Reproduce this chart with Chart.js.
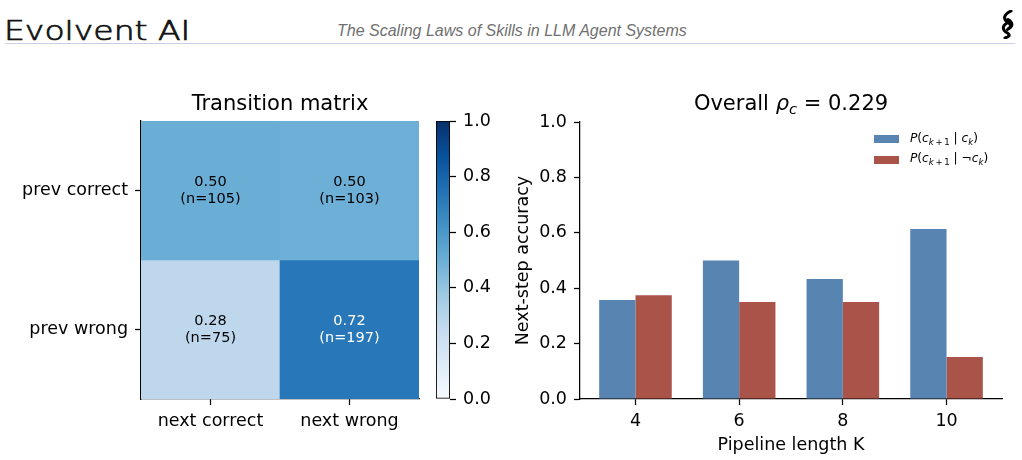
<!DOCTYPE html>
<html><head><meta charset="utf-8">
<script src="https://cdn.jsdelivr.net/npm/chart.js@4.4.1/dist/chart.umd.min.js"></script>
<style>
html,body{margin:0;padding:0;background:#fff;}
body{width:1022px;height:460px;position:relative;overflow:hidden;font-family:'DejaVu Sans',sans-serif;}
#brand{position:absolute;left:4px;top:18px;font-family:'DejaVu Sans';font-weight:200;font-size:26px;color:#111;-webkit-text-stroke:0.7px #111;transform-origin:0 0;transform:scaleX(1.27);white-space:nowrap;line-height:1;}
#subtitle{position:absolute;left:337px;top:23px;font-family:'Liberation Sans',Arial,sans-serif;font-style:italic;font-size:16px;color:#707070;white-space:nowrap;line-height:1;}
#rule{position:absolute;left:5px;top:43px;width:1010px;height:1px;background:#c9cfe6;}
#logo{position:absolute;left:999px;top:10px;}
.cv{position:absolute;top:50px;}
</style></head>
<body>
<div id="brand">Evolvent AI</div>
<div id="subtitle">The Scaling Laws of Skills in LLM Agent Systems</div>
<div id="rule"></div>
<svg id="logo" width="17" height="29" viewBox="0 0 17 29">
<path d="M12 1 C4 5 4 9 9 12.5 C13 15 12.5 17.5 8.5 19.5" stroke="#000" stroke-width="3" fill="none" stroke-linecap="round"/>
<path d="M9 9.5 C14 12.5 14 16 10 18 M8 13 C3 16 3 20 8.5 23 C11.5 25 10.5 26.5 6 28" stroke="#000" stroke-width="3" fill="none" stroke-linecap="round"/>
</svg>
<canvas id="hm" class="cv" style="left:0px" width="430" height="410"></canvas>
<canvas id="cb" class="cv" style="left:430px" width="80" height="410"></canvas>
<canvas id="bars" class="cv" style="left:510px" width="512" height="410"></canvas>
<script>
// ---------- data ----------
const hmCols = ['next correct', 'next wrong'];
const hmRows = ['prev correct', 'prev wrong'];
const hmProbCorrectRow = [0.504, 0.496];
const hmProbWrongRow = [0.276, 0.724];
const hmCountCorrectRow = [105, 103];
const hmCountWrongRow = [75, 197];
const hmTitle = 'Transition matrix';

const kLabels = ['4', '6', '8', '10'];
const pNextGivenCorrect = [0.357, 0.500, 0.433, 0.614];
const pNextGivenWrong = [0.375, 0.350, 0.350, 0.152];
const rhoC = '0.229';
const xTitle = 'Pipeline length K';
const yTitle = 'Next-step accuracy';

// ---------- styling helpers ----------
const FAM = "'DejaVu Sans'";
Chart.defaults.font.family = FAM;
Chart.defaults.color = '#000';
const BLUE = '#5884b1', RED = '#aa5349';
const bluesStops = [[0,[247,251,255]],[0.125,[222,235,247]],[0.25,[198,219,239]],[0.375,[158,202,225]],[0.5,[107,174,214]],[0.625,[66,146,198]],[0.75,[33,113,181]],[0.875,[8,81,156]],[1,[8,48,107]]];
function blues(v){
  for(let i=0;i<bluesStops.length-1;i++){
    const [a,ca]=bluesStops[i],[b,cb]=bluesStops[i+1];
    if(v<=b){const t=(v-a)/(b-a);return 'rgb('+ca.map((c,k)=>Math.round(c+(cb[k]-c)*t)).join(',')+')';}
  }
  return 'rgb(8,48,107)';
}
function drawRich(ctx, segs, x, y, size, align){
  let w=0; const parts=[];
  for(const s of segs){
    const sz = s.sub ? size*0.7 : size;
    const f = (s.it?'italic ':'')+sz+'px '+FAM;
    ctx.font=f; const mw=ctx.measureText(s.t).width;
    parts.push({s,f,mw,dy:s.sub?size*0.22:0}); w+=mw;
  }
  let cx = align==='center'? x-w/2 : x;
  ctx.textBaseline='alphabetic'; ctx.textAlign='left';
  for(const p of parts){ctx.font=p.f; ctx.fillText(p.s.t,cx,y+p.dy); cx+=p.mw;}
}
const tickFont = {family:FAM,size:17.5};

// ---------- heatmap ----------
const hmProb = [hmProbCorrectRow, hmProbWrongRow];
const hmCount = [hmCountCorrectRow, hmCountWrongRow];
const hmPlugin = {
  id:'hmText',
  afterDatasetsDraw(chart){
    const ctx=chart.ctx; ctx.save();
    chart.data.datasets.forEach((ds,r)=>{
      chart.getDatasetMeta(r).data.forEach((el,j)=>{
        const cx=el.x, cy=(el.y+el.base)/2, v=hmProb[r][j];
        ctx.fillStyle = v>0.6?'#fff':'#000';
        ctx.font='14.5px '+FAM; ctx.textAlign='center'; ctx.textBaseline='middle';
        ctx.fillText(v.toFixed(2),cx,cy-8.5);
        ctx.fillText('(n='+hmCount[r][j]+')',cx,cy+8.5);
      });
    });
    const a=chart.chartArea;
    ctx.fillStyle='#000'; ctx.font='21px '+FAM; ctx.textAlign='center'; ctx.textBaseline='alphabetic';
    ctx.fillText(hmTitle,(a.left+a.right)/2,59.5);
    ctx.restore();
  }
};
new Chart(document.getElementById('hm'),{
  type:'bar',
  data:{labels:hmCols, datasets:hmRows.map((row,r)=>({
    label:row,
    data:hmCols.map(()=>[1-r,2-r]),
    backgroundColor:hmProb[r].map(blues),
    borderWidth:0, grouped:false, barPercentage:1, categoryPercentage:1
  }))},
  options:{
    responsive:false, animation:false, events:[],
    layout:{padding:{left:0,right:11,top:71,bottom:0}},
    plugins:{legend:{display:false},tooltip:{enabled:false}},
    scales:{
      x:{type:'category', offset:true,
        grid:{offset:false,drawOnChartArea:false,tickLength:6,tickColor:'#000',tickWidth:1.25},
        border:{display:true,color:'#000',width:1.25},
        ticks:{color:'#000',font:tickFont,padding:6,maxRotation:0,autoSkip:false},
        afterFit(s){s.height=61;}},
      y:{type:'linear', min:0, max:2,
        afterBuildTicks(s){s.ticks=[{value:0.5},{value:1.5}];},
        grid:{drawOnChartArea:false,tickLength:6,tickColor:'#000',tickWidth:1.25},
        border:{display:true,color:'#000',width:1.25},
        ticks:{color:'#000',font:tickFont,padding:7,callback:(v)=>hmRows[1-Math.floor(v)]},
        afterFit(s){s.width=141;}}
    }
  },
  plugins:[hmPlugin]
});

// ---------- colorbar ----------
new Chart(document.getElementById('cb'),{
  type:'bar',
  data:{labels:[''], datasets:[{data:[[0,1]],
    backgroundColor:(c)=>{const a=c.chart.chartArea; if(!a) return '#6baed6';
      const g=c.chart.ctx.createLinearGradient(0,a.bottom,0,a.top);
      bluesStops.forEach(([p,col])=>g.addColorStop(p,'rgb('+col.join(',')+')')); return g;},
    borderColor:'#000', borderWidth:1.2, borderSkipped:false, barPercentage:1, categoryPercentage:1}]},
  options:{
    responsive:false, animation:false, events:[],
    layout:{padding:{left:6,right:0,top:71,bottom:61}},
    plugins:{legend:{display:false},tooltip:{enabled:false}},
    scales:{
      x:{display:false},
      y:{position:'right',min:0,max:1,
        grid:{drawOnChartArea:false,tickLength:6,tickColor:'#000',tickWidth:1.25},
        border:{display:false},
        ticks:{stepSize:0.2,color:'#000',font:tickFont,padding:7,callback:(v)=>Number(v).toFixed(1)},
        afterFit(s){s.width=60;}}
    }
  }
});

// ---------- bar chart ----------
const legendItems = [
  {color:BLUE, segs:[{t:'P',it:1},{t:'('},{t:'c',it:1},{t:'k',it:1,sub:1},{t:'\u2009+\u20091',sub:1},{t:' | '},{t:'c',it:1},{t:'k',it:1,sub:1},{t:')'}]},
  {color:RED, segs:[{t:'P',it:1},{t:'('},{t:'c',it:1},{t:'k',it:1,sub:1},{t:'\u2009+\u20091',sub:1},{t:' | \u00ac'},{t:'c',it:1},{t:'k',it:1,sub:1},{t:')'}]}
];
const barPlugin = {
  id:'barDeco',
  afterDraw(chart){
    const ctx=chart.ctx, a=chart.chartArea; ctx.save(); ctx.fillStyle='#000';
    drawRich(ctx,[{t:'Overall '},{t:'\u03c1',it:1},{t:'c',it:1,sub:1},{t:' = '+rhoC}],(a.left+a.right)/2,59.5,21,'center');
    legendItems.forEach((it,i)=>{
      ctx.fillStyle=it.color; ctx.fillRect(364,85+i*21,25,8);
      ctx.fillStyle='#000'; drawRich(ctx,it.segs,400,92+i*20,12.2,'left');
    });
    ctx.restore();
  }
};
new Chart(document.getElementById('bars'),{
  type:'bar',
  data:{datasets:[
    {label:'P(c_{k+1} | c_k)', data:kLabels.map((_,i)=>({x:i,y:pNextGivenCorrect[i]})), backgroundColor:BLUE, borderWidth:0, categoryPercentage:0.7, barPercentage:1},
    {label:'P(c_{k+1} | \u00acc_k)', data:kLabels.map((_,i)=>({x:i,y:pNextGivenWrong[i]})), backgroundColor:RED, borderWidth:0, categoryPercentage:0.7, barPercentage:1}
  ]},
  options:{
    responsive:false, animation:false, events:[],
    layout:{padding:{left:0,right:20,top:72,bottom:0}},
    plugins:{legend:{display:false},tooltip:{enabled:false}},
    scales:{
      x:{type:'linear', min:-0.535, max:3.535, offset:false,
        afterBuildTicks(s){s.ticks=kLabels.map((_,i)=>({value:i}));},
        grid:{offset:false,drawOnChartArea:false,tickLength:6,tickColor:'#000',tickWidth:1.25},
        border:{display:true,color:'#000',width:1.25},
        ticks:{color:'#000',font:tickFont,padding:6,maxRotation:0,autoSkip:false,callback:(v)=>kLabels[v]},
        title:{display:true,text:xTitle,color:'#000',font:tickFont,padding:{top:0,bottom:4.5}},
        afterFit(s){s.height=61;}},
      y:{min:0,max:1,
        grid:{drawOnChartArea:false,tickLength:6,tickColor:'#000',tickWidth:1.25},
        border:{display:true,color:'#000',width:1.25},
        ticks:{stepSize:0.2,color:'#000',font:tickFont,padding:7,callback:(v)=>Number(v).toFixed(1)},
        title:{display:true,text:yTitle,color:'#000',font:tickFont,padding:{top:2.5,bottom:0}},
        afterFit(s){s.width=70;}}
    }
  },
  plugins:[barPlugin]
});
</script>
</body></html>
